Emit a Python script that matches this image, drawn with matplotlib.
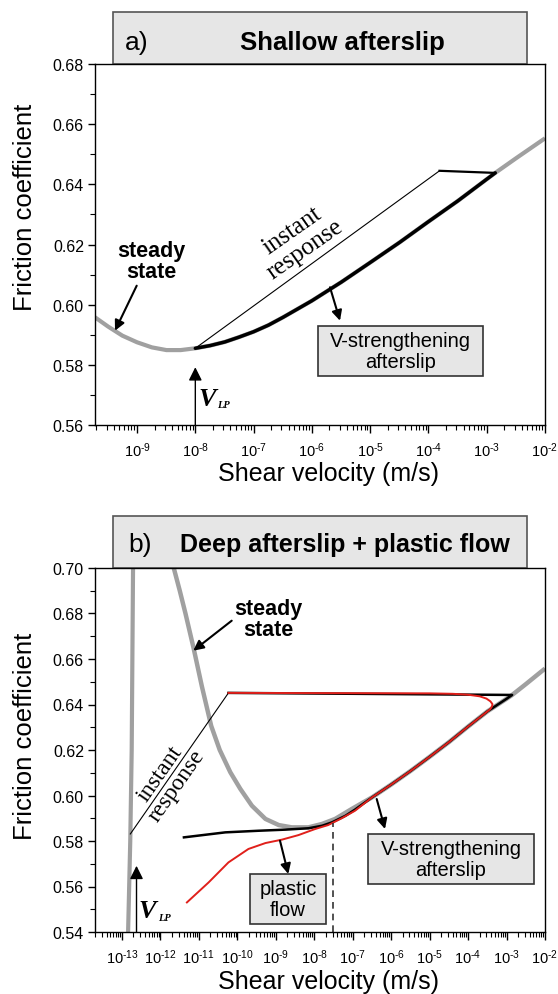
import numpy as np
import matplotlib
matplotlib.use('Agg')
import matplotlib.pyplot as plt
from matplotlib.patches import Rectangle
from matplotlib.ticker import (LogLocator, MultipleLocator, FormatStrFormatter,
                               NullFormatter, FuncFormatter)

plt.rcParams['font.family'] = ['Liberation Sans', 'DejaVu Sans']
plt.rcParams['mathtext.fontset'] = 'custom'
plt.rcParams['mathtext.rm'] = 'Liberation Sans'
plt.rcParams['mathtext.it'] = 'Liberation Sans:italic'
plt.rcParams['mathtext.bf'] = 'Liberation Sans:bold'

# ---- panel a: shallow afterslip ----
ss_a_v = [1.9e-10, 3.2e-10, 5.6e-10, 1.0e-9, 1.8e-9, 3.2e-9, 5.6e-9, 1.0e-8, 1.8e-8, 3.2e-8,
          5.6e-8, 1.0e-7, 1.8e-7, 3.2e-7, 1.0e-6, 3.2e-6, 1.0e-5, 3.2e-5, 1.0e-4, 3.2e-4,
          1.0e-3, 1.4e-3, 3.2e-3, 1.0e-2]
ss_a_mu = [0.5958, 0.5927, 0.5897, 0.5875, 0.5858, 0.5849, 0.5849, 0.5855, 0.5864, 0.5876,
           0.5892, 0.5910, 0.5932, 0.5958, 0.6013, 0.6075, 0.6140, 0.6207, 0.6276, 0.6345,
           0.6417, 0.6438, 0.6487, 0.6553]
flat_a_v = [1.55e-4, 1.4e-3]
flat_a_mu = [0.6445, 0.6438]
after_a_v = [1.4e-3, 1.0e-3, 3.2e-4, 1.0e-4, 3.2e-5, 1.0e-5, 3.2e-6, 1.0e-6, 3.2e-7, 1.8e-7,
             1.0e-7, 5.6e-8, 3.2e-8, 1.8e-8, 1.0e-8]
after_a_mu = [0.6438, 0.6417, 0.6345, 0.6276, 0.6207, 0.6140, 0.6075, 0.6013, 0.5958, 0.5932,
              0.5910, 0.5892, 0.5876, 0.5864, 0.5855]
inst_a_v = [1.0e-8, 1.55e-4]
inst_a_mu = [0.5855, 0.6445]
vlp_a = 1.0e-8

# ---- panel b: deep afterslip + plastic flow ----
ss_b_v = [2.2e-12, 3.2e-12, 4.5e-12, 7.4e-12, 1.2e-11, 2.1e-11, 3.5e-11, 6.6e-11, 1.2e-10,
          2.4e-10, 5.4e-10, 1.2e-9, 2.6e-9, 7.1e-9, 1.6e-8, 3.5e-8, 9.5e-8, 3.2e-7, 1.0e-6,
          3.2e-6, 1.0e-5, 3.2e-5, 1.0e-4, 3.2e-4, 1.0e-3, 1.4e-3, 3.2e-3, 1.0e-2]
ss_b_mu = [0.7004, 0.6900, 0.6800, 0.6644, 0.6480, 0.6306, 0.6200, 0.6102, 0.6029,
           0.5955, 0.5897, 0.5870, 0.5860, 0.5860, 0.5875, 0.5897, 0.5941, 0.5992, 0.6048,
           0.6108, 0.6170, 0.6235, 0.6303, 0.6370, 0.6425, 0.6442, 0.6490, 0.6558]
wall_b_v = [1.45e-13, 1.65e-13, 1.8e-13, 1.95e-13]
wall_b_mu = [0.540, 0.580, 0.620, 0.700]
inst_b_v = [1.66e-13, 5.9e-11]
inst_b_mu = [0.5831, 0.6451]
black_b_v = [5.9e-11, 1.4e-3, 1.0e-3, 3.2e-4, 1.0e-4, 3.2e-5, 1.0e-5, 3.2e-6, 1.0e-6, 3.2e-7,
             1.15e-7, 6.5e-8, 2.9e-8, 1.6e-8, 7.1e-9, 1.8e-9, 3.5e-10, 4.9e-11, 4.1e-12]
black_b_mu = [0.6451, 0.6442, 0.6425, 0.6370, 0.6303, 0.6235, 0.6170, 0.6108, 0.6048, 0.5992,
              0.5938, 0.5911, 0.5882, 0.5867, 0.5856, 0.5850, 0.5845, 0.5838, 0.5816]
red_b_v = [5.9e-11, 1.0e-5, 4.0e-5, 1.0e-4, 2.0e-4, 3.0e-4, 3.8e-4, 4.3e-4, 4.2e-4, 3.8e-4,
           3.2e-4, 1.0e-4, 3.2e-5, 1.0e-5, 3.2e-6, 1.0e-6, 3.2e-7, 1.15e-7, 5.2e-8, 2.3e-8,
           1.07e-8, 3.9e-9, 1.45e-9, 5.4e-10, 1.95e-10, 5.9e-11, 1.8e-11, 4.9e-12]
red_b_mu = [0.6451, 0.6449, 0.6447, 0.6443, 0.6436, 0.6426, 0.6414, 0.6402, 0.6392, 0.6380,
            0.6370, 0.6303, 0.6235, 0.6170, 0.6108, 0.6048, 0.5992, 0.5933, 0.5900, 0.5870,
            0.5853, 0.5826, 0.5806, 0.5791, 0.5765, 0.5706, 0.5618, 0.5530]
vlp_b = 2.4e-13
v_cross = 3.1e-8
mu_cross = 0.5877

GRAY = '#a0a0a0'
RED = '#e0201b'
BOXFILL = '#e6e6e6'

W, H = 558, 995
fig = plt.figure(figsize=(W / 100, H / 100), dpi=100)


def rect(x0, y0, x1, y1, **kw):
    # rectangle given in image pixels (origin top-left)
    r = Rectangle((x0 / W, 1 - y1 / H), (x1 - x0) / W, (y1 - y0) / H,
                  transform=fig.transFigure, **kw)
    fig.add_artist(r)


def ftext(x, y, s, **kw):
    fig.text(x / W, 1 - y / H, s, ha='center', va='center', **kw)


def arrow(ax, tail, tip):
    ax.annotate('', xy=(tip[0], H - tip[1]), xytext=(tail[0], H - tail[1]),
                xycoords='figure pixels', textcoords='figure pixels',
                arrowprops=dict(arrowstyle='-|>', color='k', lw=1.5, mutation_scale=15,
                                shrinkA=0, shrinkB=0))


def pow_label(v, pos):
    n = int(round(np.log10(v)))
    return r'$\mathdefault{10^{\text{-}%d}}$' % (-n)


def style_axes(ax, ylim, xlim):
    ax.set_xscale('log')
    ax.set_xlim(*xlim)
    ax.set_ylim(*ylim)
    ax.xaxis.set_major_locator(LogLocator(base=10, numticks=30))
    ax.xaxis.set_major_formatter(FuncFormatter(pow_label))
    ax.xaxis.set_minor_locator(LogLocator(base=10, subs=np.arange(2, 10), numticks=30))
    ax.xaxis.set_minor_formatter(NullFormatter())
    ax.yaxis.set_major_locator(MultipleLocator(0.02))
    ax.yaxis.set_minor_locator(MultipleLocator(0.01))
    ax.yaxis.set_major_formatter(FormatStrFormatter('%.2f'))
    ax.tick_params(axis='both', which='major', width=1, direction='out')
    ax.tick_params(axis='x', which='major', length=6, pad=5, labelsize=10.5)
    ax.tick_params(axis='y', which='major', length=5, pad=3, labelsize=11.5)
    ax.tick_params(axis='both', which='minor', length=3.5, width=0.8, direction='out')
    for s in ax.spines.values():
        s.set_linewidth(1.0)


# title boxes
rect(113, 13, 527, 65, facecolor=BOXFILL, edgecolor='#555555', lw=1.2, zorder=-1)
rect(113, 517, 527, 569, facecolor=BOXFILL, edgecolor='#555555', lw=1.2, zorder=-1)
ftext(137, 43, 'a)', fontsize=19)
ftext(342, 43, 'Shallow afterslip', fontsize=18.5, fontweight='bold')
ftext(140, 545, 'b)', fontsize=19)
ftext(345, 545, 'Deep afterslip + plastic flow', fontsize=18, fontweight='bold')

# ---------------- panel a ----------------
ax_a = fig.add_axes([95 / W, 1 - 426 / H, 450 / W, 361 / H])
style_axes(ax_a, (0.56, 0.68), (1.9e-10, 1e-2))
ax_a.plot(ss_a_v, ss_a_mu, color=GRAY, lw=3.0, solid_capstyle='butt')
ax_a.plot(inst_a_v, inst_a_mu, color='k', lw=0.8)
ax_a.plot(flat_a_v, flat_a_mu, color='k', lw=1.6)
ax_a.plot(after_a_v, after_a_mu, color='k', lw=2.5, solid_capstyle='round')
ax_a.annotate('', xy=(vlp_a, 0.5792), xytext=(vlp_a, 0.56),
              arrowprops=dict(arrowstyle='-|>', color='k', lw=1.0, mutation_scale=20,
                              shrinkA=0, shrinkB=0))
ftext(151, 262, 'steady\nstate', fontsize=15.5, fontweight='bold', linespacing=1.05)
arrow(ax_a, (136.7, 286.7), (115, 331.7))
fig.text(298.5 / W, 1 - 240.5 / H, 'instant\nresponse', ha='center', va='center',
         rotation=35, rotation_mode='anchor', fontsize=18, family='Liberation Serif',
         linespacing=1.1)
arrow(ax_a, (330, 288.3), (340, 321.7))
rect(318, 327, 483, 377, facecolor=BOXFILL, edgecolor='#333333', lw=1.2)
ftext(400.5, 352, 'V-strengthening\nafterslip', fontsize=14.5, linespacing=1.1)
ftext(207, 400, 'V', fontsize=19, family='Liberation Serif', fontweight='bold', style='italic')
ftext(223, 406, 'LP', fontsize=7.5, family='Liberation Serif', fontweight='bold', style='italic')

# ---------------- panel b ----------------
ax_b = fig.add_axes([95 / W, 1 - 933 / H, 450 / W, 364 / H])
style_axes(ax_b, (0.54, 0.70), (2.0e-14, 1e-2))
ax_b.plot(wall_b_v, wall_b_mu, color=GRAY, lw=3.0, solid_capstyle='butt')
ax_b.plot(ss_b_v, ss_b_mu, color=GRAY, lw=3.2, solid_capstyle='butt')
ax_b.plot(inst_b_v, inst_b_mu, color='k', lw=0.8)
ax_b.plot(black_b_v, black_b_mu, color='k', lw=1.8)
ax_b.plot(red_b_v, red_b_mu, color=RED, lw=1.4)
ax_b.plot([v_cross, v_cross], [0.54, mu_cross], color='#333333', lw=1.2, dashes=(4, 3))
ax_b.annotate('', xy=(vlp_b, 0.5691), xytext=(vlp_b, 0.54),
              arrowprops=dict(arrowstyle='-|>', color='k', lw=1.0, mutation_scale=20,
                              shrinkA=0, shrinkB=0))
ftext(268, 620, 'steady\nstate', fontsize=15.5, fontweight='bold', linespacing=1.05)
arrow(ax_b, (231.7, 621.7), (193.3, 651.7))
fig.text(168.75 / W, 1 - 780.25 / H, 'instant\nresponse', ha='center', va='center',
         rotation=55, rotation_mode='anchor', fontsize=17, family='Liberation Serif',
         linespacing=0.95)
arrow(ax_b, (280, 841.7), (288.3, 875))
arrow(ax_b, (376.7, 800), (385, 830))
rect(250, 875, 326, 925, facecolor=BOXFILL, edgecolor='#333333', lw=1.2)
ftext(288, 900, 'plastic\nflow', fontsize=14.5, linespacing=1.1)
rect(368, 835, 534, 885, facecolor=BOXFILL, edgecolor='#333333', lw=1.2)
ftext(451, 860, 'V-strengthening\nafterslip', fontsize=14.5, linespacing=1.1)
ftext(147.5, 911.5, 'V', fontsize=19, family='Liberation Serif', fontweight='bold', style='italic')
ftext(164, 918.5, 'LP', fontsize=7.5, family='Liberation Serif', fontweight='bold', style='italic')

# axis labels
ftext(25, 207, 'Friction coefficient', fontsize=18.5, rotation=90)
ftext(25, 736, 'Friction coefficient', fontsize=18.5, rotation=90)
ftext(329, 474, 'Shear velocity (m/s)', fontsize=18)
ftext(329, 982, 'Shear velocity (m/s)', fontsize=18)

fig.savefig('out.png', dpi=100)
